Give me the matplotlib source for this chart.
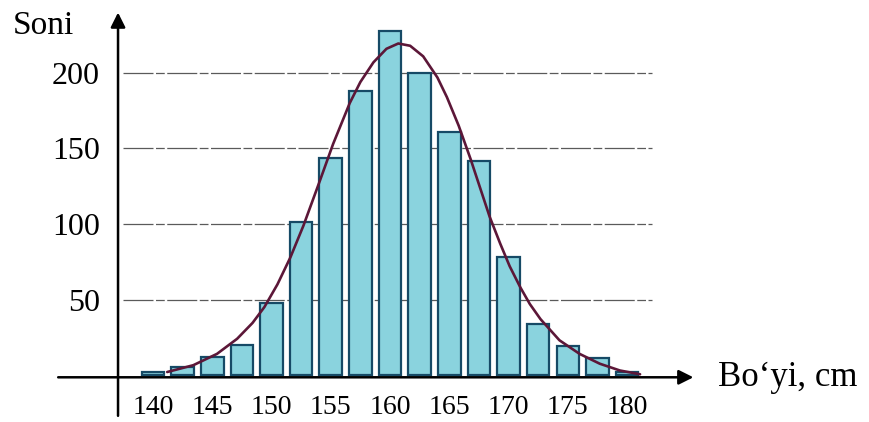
import numpy as np
import matplotlib.pyplot as plt

# Height groups (cm) and counts
heights = [140, 142.5, 145, 147.5, 150, 152.5, 155, 157.5, 160,
           162.5, 165, 167.5, 170, 172.5, 175, 177.5, 180]
counts = [2, 5, 12, 20, 48, 101, 144, 188, 228,
          200, 161, 142, 78, 34, 19, 11, 2]

# Fitted curve, points
curve_x = [141.2, 143.4, 145.4, 147.1, 148.4, 149.4, 150.5, 151.6, 152.7,
           154.1, 155.2, 156.6, 157.5, 158.6, 159.7, 160.7, 161.7, 162.8,
           164.0, 164.8, 165.8, 166.8, 167.6, 168.4, 169.3, 170.1, 171.0,
           171.8, 172.7, 174.3, 176.0, 177.7, 179.4, 181.1]
curve_y = [2, 6.5, 14, 24, 34.5, 45, 60, 78, 99,
           129, 153, 180, 194, 207, 216, 219.5, 218, 211,
           197, 184, 165, 143, 124, 105, 87, 72, 58,
           47, 37, 23, 14, 7.5, 3, 0.5]

x_ticks = [140, 145, 150, 155, 160, 165, 170, 175, 180]
y_ticks = [50, 100, 150, 200]

fig = plt.figure(figsize=(8.69, 4.22), dpi=100)
ax = fig.add_axes([0, 0, 1, 1])
ax.set_xlim(127.09, 200.42)
ax.set_ylim(-31.1, 248.3)

serif = ['Liberation Serif', 'DejaVu Serif']
plt.rcParams['font.family'] = serif

# thin, roughly dashed grid lines behind the bars
for v in y_ticks:
    ax.plot([137.5, 182.1], [v, v], color='#5a5a5a', lw=0.9,
            dashes=(24, 2, 7, 2), zorder=1)

ax.bar(heights, counts, width=1.9, color='#8ad3de', edgecolor='#164a66',
       linewidth=1.6, zorder=2)

ax.plot(curve_x, curve_y, color='#5c1738', lw=1.9,
        solid_joinstyle='round', solid_capstyle='round', zorder=3)

# axes with arrows
yaxis_x = 137.05
ax.annotate('', xy=(yaxis_x, 240), xytext=(yaxis_x, -27),
            arrowprops=dict(arrowstyle='-|>', lw=1.8, color='black',
                            mutation_scale=22, shrinkA=0, shrinkB=0))
ax.annotate('', xy=(185.6, -1.5), xytext=(132.0, -1.5),
            arrowprops=dict(arrowstyle='-|>', lw=1.8, color='black',
                            mutation_scale=22, shrinkA=0, shrinkB=0))

for s in ax.spines.values():
    s.set_visible(False)
ax.spines['left'].set_position(('data', yaxis_x))
ax.spines['bottom'].set_position(('data', -1.5))

ax.set_xticks(x_ticks)
ax.set_xticklabels([str(t) for t in x_ticks], fontsize=20, family=serif)
ax.set_yticks(y_ticks)
ax.set_yticklabels([str(t) for t in y_ticks], fontsize=23, family=serif)
ax.tick_params(axis='x', length=0, pad=13)
ax.tick_params(axis='y', length=0, pad=13)

ax.text(128.2, 231.5, 'Soni', fontsize=24, family=serif, ha='left', va='center')
ax.text(187.7, -1.5, 'Bo\u2018yi, cm', fontsize=25, family=serif,
        ha='left', va='center')

fig.savefig('out.png', dpi=100)
